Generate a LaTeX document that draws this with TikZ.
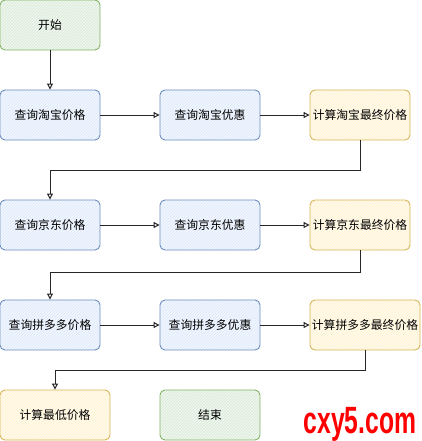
\documentclass[tikz,border=0pt]{standalone}
\usepackage{fontspec}
\newfontfamily\cjk{Noto Sans CJK SC}
\newfontfamily\wmfont{Liberation Sans}
\usetikzlibrary{arrows.meta, patterns}

\definecolor{bluestroke}{HTML}{6C8EBF}
\definecolor{bluefill}{HTML}{DAE8FC}
\definecolor{yelstroke}{HTML}{D6B656}
\definecolor{yelfill}{HTML}{FFF2CC}
\definecolor{grnstroke}{HTML}{82B366}
\definecolor{grnfill}{HTML}{D5E8D4}

\begin{document}
\begin{tikzpicture}[
  x=1pt, y=-1pt,
  every node/.style={font=\cjk\fontsize{11.8}{14}\selectfont},
  box/.style={rounded corners=5pt, minimum width=100pt, minimum height=50pt,
    inner sep=0pt, line width=0.9pt},
  bluebox/.style={box, draw=bluestroke, preaction={fill=bluefill!35},
    pattern=north east lines, pattern color=bluefill},
  yelbox/.style={box, draw=yelstroke, preaction={fill=yelfill!35},
    pattern=north east lines, pattern color=yelfill},
  grnbox/.style={box, draw=grnstroke, preaction={fill=grnfill!35},
    pattern=north east lines, pattern color=grnfill},
  flow/.style={draw=black!85, line width=1pt,
    -{Triangle[open, length=6pt, width=6pt]}}
]

\useasboundingbox (0,0) rectangle (421,441);

%% ── start ────────────────────────────────────────────────────────────────────
\node[grnbox] (start) at (50,25) {开始};

%% ── taobao row ───────────────────────────────────────────────────────────────
\node[bluebox] (tbprice) at (50,115)  {查询淘宝价格};
\node[bluebox] (tbdisc)  at (210,115) {查询淘宝优惠};
\node[yelbox]  (tbfinal) at (360,115) {计算淘宝最终价格};

%% ── jd row ───────────────────────────────────────────────────────────────────
\node[bluebox] (jdprice) at (50,225)  {查询京东价格};
\node[bluebox] (jddisc)  at (210,225) {查询京东优惠};
\node[yelbox]  (jdfinal) at (360,225) {计算京东最终价格};

%% ── pinduoduo row ────────────────────────────────────────────────────────────
\node[bluebox] (pddprice) at (50,325)  {查询拼多多价格};
\node[bluebox] (pdddisc)  at (210,325) {查询拼多多优惠};
\node[yelbox, minimum width=110pt] (pddfinal) at (365,325) {计算拼多多最终价格};

%% ── last row ─────────────────────────────────────────────────────────────────
\node[yelbox, minimum width=110pt] (lowest) at (55,415) {计算最低价格};
\node[grnbox] (finish) at (210,415) {结束};

%% ── connectors ───────────────────────────────────────────────────────────────
\draw[flow] (start) -- (tbprice);
\draw[flow] (tbprice) -- (tbdisc);
\draw[flow] (tbdisc) -- (tbfinal);
\draw[flow] (tbfinal.south) -- ++(0,30) -| (jdprice.north);

\draw[flow] (jdprice) -- (jddisc);
\draw[flow] (jddisc) -- (jdfinal);
\draw[flow] (jdfinal.south) -- ++(0,22) -| (pddprice.north);

\draw[flow] (pddprice) -- (pdddisc);
\draw[flow] (pdddisc) -- (pddfinal);
\draw[flow] (pddfinal.south) -- ++(0,20) -| (lowest.north);

%% ── watermark ────────────────────────────────────────────────────────────────
\node[red, anchor=base, inner sep=0pt, xscale=0.65,
  font=\wmfont\bfseries\fontsize{38}{40}\selectfont]
  (mark) at (360,433) {cxy5.com};

\end{tikzpicture}
\end{document}
